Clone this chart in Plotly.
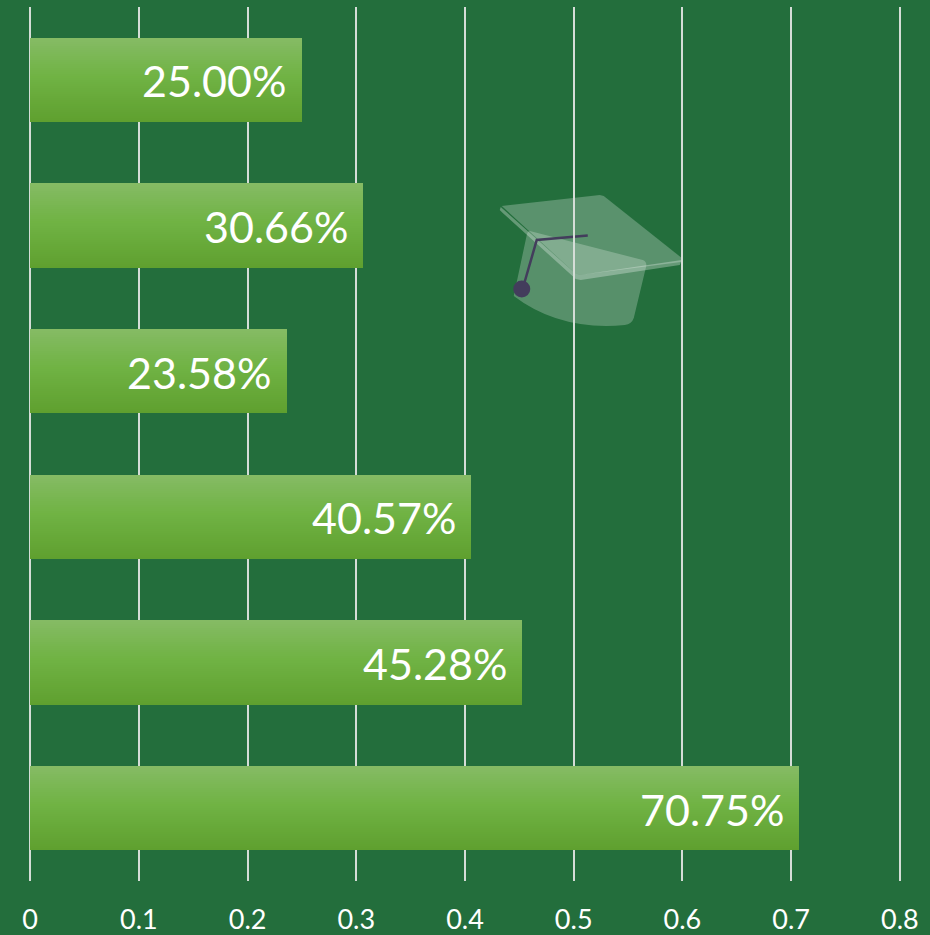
import plotly.graph_objects as go

categories = ["A", "B", "C", "D", "E", "F"]
values = [0.25, 0.3066, 0.2358, 0.4057, 0.4528, 0.7075]
value_labels = ["25.00%", "30.66%", "23.58%", "40.57%", "45.28%", "70.75%"]
tick_values = [0, 0.1, 0.2, 0.3, 0.4, 0.5, 0.6, 0.7, 0.8]
tick_labels = ["0", "0.1", "0.2", "0.3", "0.4", "0.5", "0.6", "0.7", "0.8"]

W, H = 930, 935
X_PAD = 0.002  # keeps the gridlines at 0 and 0.8 from being clipped away
L, R, T, B = 28.3, 27.8, 7, 54
BG = "#236E3C"
GRID = "#D5DDD7"
BAR_FRACTION = 0.58
STRIPS = 42
STOPS = [(0.0, (133, 187, 100)), (0.45, (112, 179, 68)), (1.0, (95, 160, 47))]


def stop_colour(t):
    for (a, ca), (b, cb) in zip(STOPS, STOPS[1:]):
        if t <= b:
            f = (t - a) / (b - a)
            return "rgb(%d,%d,%d)" % tuple(round(p + (q - p) * f) for p, q in zip(ca, cb))
    return "rgb(%d,%d,%d)" % STOPS[-1][1]


fig = go.Figure()
# A vertical gradient: overlapping bars, each starting lower than the last.
for k in range(STRIPS):
    t = k / (STRIPS - 1)
    start = k / STRIPS * BAR_FRACTION
    fig.add_trace(go.Bar(
        x=values, y=categories, orientation="h",
        width=BAR_FRACTION - start,
        offset=-BAR_FRACTION / 2 + start,
        marker=dict(color=stop_colour(t), line=dict(width=0)),
        showlegend=False, hoverinfo="skip",
    ))


def px(x):
    return (x - L) / (W - L - R)


def py(y):
    return 1 - (y - T) / (H - T - B)


def to_paper(x, y):
    return f"{px(x):.5f} {py(y):.5f}"


def poly(points, fill):
    path = "M " + " L ".join(to_paper(x, y) for x, y in points) + " Z"
    return dict(type="path", xref="paper", yref="paper", path=path, fillcolor=fill,
                line=dict(width=0), layer="below")


body = ("M " + to_paper(530, 231) + " L " + to_paper(643, 260) + " Q " + to_paper(648, 262) + " " + to_paper(646, 268)
        + " L " + to_paper(634, 318) + " Q " + to_paper(632, 324) + " " + to_paper(625, 325)
        + " Q " + to_paper(560, 331) + " " + to_paper(514, 296) + " L " + to_paper(527, 235) + " Q " + to_paper(528, 231) + " " + to_paper(530, 231) + " Z")
shapes = [
    dict(type="path", xref="paper", yref="paper", path=body, fillcolor="rgba(255,255,255,0.24)",
         line=dict(width=0), layer="below"),
    poly([(502, 206), (600, 195), (604, 196), (682, 258), (681, 262), (580, 275), (575, 273)],
         "rgba(255,255,255,0.25)"),
    poly([(501, 207), (575, 273), (580, 275), (682, 260), (680, 265), (581, 280), (576, 279), (503, 213), (500, 210)],
         "rgba(255,255,255,0.3)"),
    dict(type="path", xref="paper", yref="paper", layer="below", fillcolor="rgba(0,0,0,0)",
         path="M " + to_paper(588, 235.5) + " L " + to_paper(537, 240) + " L " + to_paper(524, 285),
         line=dict(color="#433D5C", width=2.5)),
    dict(type="circle", xref="paper", yref="paper", layer="below", fillcolor="#433D5C", line=dict(width=0),
         x0=px(513.5), x1=px(530.5), y0=py(297.5), y1=py(280.5)),
]

annotations = [
    dict(x=v, y=c, text=s, xref="x", yref="y", xanchor="right", yanchor="middle",
         xshift=-13.5, yshift=-1, showarrow=False,
         font=dict(family="Lato", size=43, color="white"))
    for v, c, s in zip(values, categories, value_labels)
]

fig.update_layout(
    width=W, height=H, barmode="overlay", bargap=0,
    margin=dict(l=L, r=R, t=T, b=B, pad=0, autoexpand=False),
    paper_bgcolor=BG, plot_bgcolor=BG,
    shapes=shapes, annotations=annotations,
    showlegend=False,
    xaxis=dict(range=[-X_PAD, 0.8 + X_PAD], tickmode="array", tickvals=tick_values, ticktext=tick_labels,
               showgrid=True, gridcolor=GRID, gridwidth=2, zeroline=False, showline=False, ticks="",
               automargin=False,
               tickfont=dict(family="Lato", size=27, color="white"), ticklabelstandoff=20),
    yaxis=dict(type="category", categoryorder="array", categoryarray=categories,
               range=[5.5, -0.5], showgrid=False, zeroline=False, showline=False,
               showticklabels=False, ticks="", automargin=False),
)

fig.write_html("out.html", config={"displayModeBar": False, "responsive": False},
               post_script=f"document.body.style.margin='0';document.documentElement.style.background='{BG}';")
